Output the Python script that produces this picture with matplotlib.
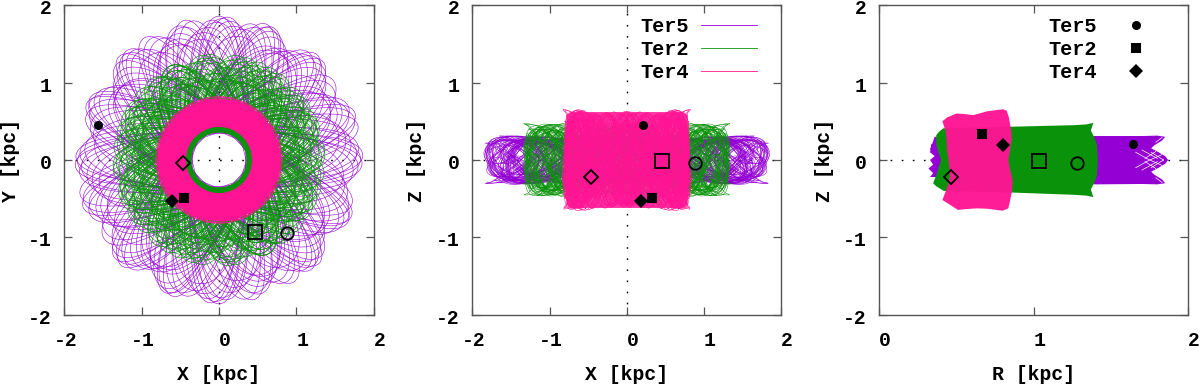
import matplotlib
matplotlib.use('Agg')
import matplotlib.pyplot as plt
from matplotlib.lines import Line2D
from matplotlib.patches import PathPatch, Wedge
from matplotlib.path import Path
from matplotlib.transforms import Affine2D, ScaledTranslation

names = ['Ter5', 'Ter2', 'Ter4']
purple = '#9400d3'
green = '#0a930a'
pink = '#ff1493'
axis_color = '#555555'

# cluster positions: now (filled), other end (open)
filled_xy = [(-1.57, 0.45), (-0.45, -0.49), (-0.61, -0.525)]
open_xy = [(0.88, -0.94), (0.466, -0.93), (-0.46, -0.04)]
filled_xz = [(0.215, 0.45), (0.33, -0.495), (0.19, -0.525)]
open_xz = [(0.88, -0.04), (0.45, -0.01), (-0.465, -0.215)]
filled_rz = [(1.645, 0.21), (0.664, 0.33), (0.80, 0.20)]
open_rz = [(1.28, -0.04), (1.037, -0.01), (0.468, -0.215)]

# one orbit loop seen from above, bezier control points, unit size
loop_verts = [(1, 0), (1, 0.72), (0.62, 1), (0, 1), (-0.62, 1), (-1, 0.72), (-1, 0),
              (-1, -0.72), (-0.62, -1), (0, -1), (0.62, -1), (1, -0.72), (1, 0)]
loop_codes = [Path.MOVETO] + [Path.CURVE4] * 12

# loop sizes and directions estimated in the XY panel
ter5_dirs = [2, 24, 47, 68, 90, 111, 134, 156]
ter5_spread = [-10, -7, -5, -3.5, -1.5, 0, 1, 3, 5.5, 8, 10.5]
ter5_long = [1.62, 1.74, 1.80, 1.85, 1.83, 1.86, 1.78, 1.81, 1.72, 1.66, 1.58]
ter5_short = [0.50, 0.44, 0.40, 0.35, 0.37, 0.34, 0.42, 0.38, 0.46, 0.48, 0.52]
ter2_dirs = [3, 11, 20, 27, 33, 41, 52, 59, 66, 72, 80, 92, 100, 112, 118, 123, 131, 143, 150, 157, 163, 172]
ter2_spread = [-5, -3, -1.5, 0, 2, 3.5, 5.5]
ter2_long = [1.12, 1.26, 1.33, 1.37, 1.30, 1.20, 1.05]
ter2_short = [0.47, 0.41, 0.37, 0.36, 0.39, 0.44, 0.52]
ter4_dirs = [0, 15, 30, 45, 60, 75, 90, 105, 120, 135, 150, 165]
ter4_spread = [-6, -2, 2, 6]
ter4_long = [0.81, 0.78, 0.82, 0.79]
ter4_short = [0.46, 0.43, 0.44, 0.48]
ter4_ring = (0.43, 0.79)

# two box orbits seen side on, quadratic bezier points, unit size
box_u = [-0.98, -0.90, -0.62, -0.42, -0.30, -0.18, 0.02, 0.22, 0.32, 0.45, 0.62, 0.78, 0.86,
         0.98, 1.04, 1.10, 1.00, 0.90, 0.70, 0.52, 0.42, 0.30, 0.12, -0.05, -0.15, -0.28,
         -0.48, -0.66, -0.74, -0.84, -1.03, -1.12, -0.95, -0.80, -0.55, -0.38, -0.20, -0.02,
         0.12, 0.30, 0.50, 0.66, 0.76, 0.88, 1.02, 1.12, 0.94, 0.82, 0.58, 0.40, 0.24, 0.06,
         -0.10, -0.30, -0.52, -0.70, -0.82, -0.96, -1.02]
box_v = [0.00, 1.25, 0.72, 0.30, -0.20, -1.25, -0.80, -0.30, 0.25, 1.30, 0.75, 0.30, -0.25,
         -1.20, -0.55, -0.10, 0.30, 1.30, 0.80, 0.30, -0.30, -1.30, -0.78, -0.25, 0.30, 1.28,
         0.80, 0.30, -0.30, -1.25, -0.60, -0.05, 0.40, 1.20, 0.55, -0.05, -0.55, -1.30, -0.50,
         0.10, 0.65, 1.30, 0.45, -0.15, -0.80, -0.60, 0.65, 1.20, 0.35, -0.20, -0.70, -1.25,
         -0.35, 0.20, 0.75, 1.20, 0.30, -0.35, -0.10]
corner_u = [-1.00, -1.08, -0.85, -0.65, -0.55, -0.42, -0.20, 0.00, 0.10, 0.22, 0.40, 0.55, 0.62,
            0.72, 0.92, 1.12, 1.05, 1.00, 0.88, 0.72, 0.65, 0.58, 0.78, 1.02, 1.04, 1.06, 0.86,
            0.62, 0.48, 0.34, 0.14, -0.05, -0.16, -0.28, -0.48, -0.66, -0.74, -0.84, -1.03,
            -1.14, -0.98, -0.80, -0.72, -0.68, -0.90, -1.10, -1.04]
corner_v = [-0.20, 1.20, 0.80, 0.30, -0.30, -1.25, -0.80, -0.30, 0.30, 1.25, 0.80, 0.30, -0.30,
            -1.20, -0.95, -0.70, 0.00, 0.90, 1.00, 1.10, 0.40, -0.40, -0.95, -1.15, -0.40, 0.50,
            0.90, 1.25, 0.40, -0.40, -0.85, -1.25, -0.30, 0.30, 0.85, 1.25, 0.30, -0.35, -0.95,
            -1.05, -0.98, -0.92, -0.20, 0.50, 0.98, 1.05, 0.30]

# size, flip and sideways shift of each drawn copy of the box orbits
ter5_box_w = [1.62, 1.58, 1.64, 1.56, 1.60, 1.52, 1.63, 1.57]
ter5_box_h = [0.30, 0.31, 0.27, 0.22, 0.31, 0.29, 0.26, 0.30]
ter5_box_flip = [1, -1, 1, -1, -1, 1, -1, 1]
ter5_box_shift = [-0.09, 0.14, 0.03, -0.17, 0.07, -0.05, 0.11, -0.13]
ter2_box_w = [1.16, 1.12, 1.20, 1.08, 1.18, 1.14, 1.10, 1.19]
ter2_box_h = [0.46, 0.47, 0.40, 0.36, 0.45, 0.43, 0.31, 0.46]
ter2_box_flip = [1, -1, -1, 1, 1, -1, 1, -1]
ter2_box_shift = [0.08, -0.13, 0.02, 0.17, -0.06, 0.12, -0.17, -0.03]
ter4_box_w = [0.73, 0.76, 0.70, 0.75, 0.72, 0.77, 0.68, 0.74]
ter4_box_h = [0.62, 0.65, 0.60, 0.50, 0.64, 0.63, 0.55, 0.61]
ter4_box_flip = [1, -1, 1, -1, -1, 1, -1, 1]
ter4_box_shift = [0.02, -0.01, 0.04, 0.0, -0.03, 0.01, 0.05, -0.02]
# pink cover of the XZ box, partly see-through
ter4_box_x = [-0.78, -0.72, 0.72, 0.79, 0.79, 0.72, -0.72, -0.78]
ter4_box_y = [0.58, 0.62, 0.62, 0.58, -0.58, -0.62, -0.62, -0.58]

# outlines of the three bands in the RZ panel
ter5_r = [0.34, 0.35, 0.33, 0.36, 0.50, 1.00, 1.41, 1.70, 1.80, 1.85, 1.83, 1.78, 1.76, 1.80, 1.85, 1.87, 1.85, 1.80, 1.76,
          1.78, 1.83, 1.85, 1.80, 1.70, 1.41, 1.00, 0.50, 0.36, 0.33, 0.35, 0.32, 0.35, 0.33, 0.36, 0.33]
ter5_z = [0.215, 0.17, 0.13, 0.30, 0.30, 0.30, 0.31, 0.31, 0.315, 0.30, 0.25, 0.19, 0.15, 0.11, 0.05, 0.00, -0.05, -0.11, -0.15,
          -0.19, -0.25, -0.30, -0.315, -0.31, -0.315, -0.31, -0.30, -0.22, -0.22, -0.17, -0.11, -0.06, 0.00, 0.05, 0.10]
ter2_r = [0.37, 0.385, 0.416, 0.85, 1.26, 1.34, 1.386, 1.37, 1.39, 1.41, 1.415, 1.41, 1.39, 1.37, 1.386, 1.34, 1.26, 0.85, 0.42,
          0.37, 0.35, 0.37, 0.385, 0.40, 0.385, 0.37]
ter2_z = [0.32, 0.36, 0.41, 0.43, 0.45, 0.46, 0.48, 0.38, 0.30, 0.20, 0.00, -0.20, -0.30, -0.38, -0.48, -0.46, -0.45, -0.42, -0.40,
          -0.34, -0.30, -0.20, -0.10, 0.00, 0.10, 0.20]
ter4_r = [0.41, 0.44, 0.50, 0.55, 0.61, 0.70, 0.80, 0.825, 0.84, 0.855, 0.858, 0.845, 0.836, 0.845, 0.864, 0.86, 0.845, 0.836,
          0.80, 0.70, 0.63, 0.56, 0.51, 0.46, 0.41, 0.44, 0.46, 0.455, 0.45, 0.44, 0.437, 0.43]
ter4_z = [0.50, 0.55, 0.60, 0.595, 0.58, 0.63, 0.655, 0.64, 0.55, 0.38, 0.26, 0.10, 0.00, -0.10, -0.26, -0.40, -0.55, -0.625,
          -0.655, -0.63, -0.625, -0.635, -0.645, -0.58, -0.517, -0.36, -0.215, -0.10, 0.00, 0.13, 0.26, 0.38]
# white gaps between the loops at the end of the Ter5 band
gap_r = [[1.66, 1.74, 1.83], [1.66, 1.74, 1.83], [1.70, 1.80], [1.70, 1.80], [1.76, 1.84], [1.76, 1.84],
         [1.72, 1.79], [1.72, 1.79], [1.79, 1.83], [1.79, 1.83]]
gap_z = [[-0.10, -0.01, 0.07], [0.10, 0.01, -0.07], [0.13, 0.02], [-0.13, -0.02], [0.10, 0.00], [-0.10, 0.00],
         [0.02, 0.11], [-0.02, -0.11], [0.23, 0.29], [-0.23, -0.29]]

plt.rcParams['font.family'] = ['Liberation Mono', 'DejaVu Sans Mono']
plt.rcParams['font.weight'] = 'bold'
plt.rcParams['font.size'] = 14.2
plt.rcParams['axes.unicode_minus'] = False
plt.rcParams['path.simplify'] = False

W, H = 1200.0, 385.0
boxes = [(64.3, 373.7), (472.3, 781.3), (879.0, 1188.3)]
top, bottom = 5.3, 314.7


def setup(left, right, xlim, xticks, xlabel, ylabel, ylabel_x, vline=True):
    ax = fig.add_axes([left / W, 1 - bottom / H, (right - left) / W, (bottom - top) / H])
    ax.set_xlim(xlim)
    ax.set_ylim(-2, 2)
    ax.set_xticks(xticks)
    ax.set_yticks([-2, -1, 0, 1, 2])
    ax.tick_params(direction='in', length=5.8, width=0.9, color=axis_color, top=True, right=True,
                   pad=12)
    ax.tick_params(axis='y', pad=9)
    for s in ax.spines.values():
        s.set_color(axis_color)
        s.set_linewidth(1.0)
        s.set_zorder(6)
    ax.axhline(0, color='black', lw=1.0, ls=(0, (1.2, 6.8)), zorder=0)
    if vline:
        ax.axvline(0, color='black', lw=1.0, ls=(0, (1.2, 6.8)), zorder=0)
    # gnuplot puts the digits a little off the tick
    for lab, t in zip(ax.get_xticklabels(), xticks):
        dx = 1 / 72.0 if t < 0 else 6 / 100.0
        lab.set_transform(lab.get_transform() + ScaledTranslation(dx, 0, fig.dpi_scale_trans))
    for lab in ax.get_yticklabels():
        lab.set_transform(lab.get_transform() + ScaledTranslation(0, -1.5 / 100.0, fig.dpi_scale_trans))
    fig.text((left + right) / 2 / W, 1 - 375 / H, xlabel, ha='center', va='center')
    fig.text(ylabel_x / W, 1 - 160 / H, ylabel, ha='center', va='center', rotation=90)
    return ax


def draw_rosette(ax, dirs, spread, longs, shorts, color, lw, alpha=1.0):
    p = Path(loop_verts, loop_codes)
    for i, d in enumerate(dirs):
        # start each bundle at another loop so the bundles do not repeat exactly
        n = len(spread)
        for k in range(n):
            off = spread[k]
            a = longs[(k + i * 3) % n] if i % 2 else longs[k]
            b = shorts[(k + i * 3) % n] if i % 2 else shorts[k]
            tr = Affine2D().scale(a, b).rotate_deg(d + off) + ax.transData
            ax.add_patch(PathPatch(p, fc='none', ec=color, lw=lw, alpha=alpha, transform=tr, zorder=2))


def draw_boxes(ax, widths, heights, flips, shifts, color, lw):
    verts = list(zip(box_u, box_v))
    p1 = Path(verts, [Path.MOVETO] + [Path.CURVE3] * (len(verts) - 1))
    verts = list(zip(corner_u, corner_v))
    p2 = Path(verts, [Path.MOVETO] + [Path.CURVE3] * (len(verts) - 1))
    for w, h, f, s in zip(widths, heights, flips, shifts):
        for side in (1, -1):
            for p in (p1, p2):
                tr = Affine2D().scale(side * w, f * h).translate(side * s, 0) + ax.transData
                ax.add_patch(PathPatch(p, fc='none', ec=color, lw=lw, transform=tr, zorder=2))


def draw_markers(ax, filled, empty):
    kinds = ['o', 's', 'D']
    sizes = [6.5, 6.5, 7.0]
    open_sizes = [9.0, 9.5, 7.0]
    for (x, y), m, s in zip(filled, kinds, sizes):
        ax.plot([x], [y], m, color='black', ms=s, mew=0, zorder=5, clip_on=False)
    for (x, y), m, s in zip(empty, kinds, open_sizes):
        ax.plot([x], [y], m, mfc='none', mec='black', ms=s, mew=1.3, zorder=5)


fig = plt.figure(figsize=(12, 3.85), dpi=100)

# X-Y
ax1 = setup(boxes[0][0], boxes[0][1], (-2, 2), [-2, -1, 0, 1, 2], 'X [kpc]', 'Y [kpc]', 10)
draw_rosette(ax1, ter5_dirs, ter5_spread, ter5_long, ter5_short, purple, 0.4)
draw_rosette(ax1, ter2_dirs, ter2_spread, ter2_long, ter2_short, green, 0.45)
ax1.add_patch(Wedge((0, 0), ter4_ring[1], 0, 360, width=ter4_ring[1] - ter4_ring[0], fc=pink, ec='none', zorder=2))
draw_rosette(ax1, ter4_dirs, ter4_spread, ter4_long, ter4_short, pink, 0.4)
draw_markers(ax1, filled_xy, open_xy)

# X-Z
ax2 = setup(boxes[1][0], boxes[1][1], (-2, 2), [-2, -1, 0, 1, 2], 'X [kpc]', 'Z [kpc]', 417)
draw_boxes(ax2, ter5_box_w, ter5_box_h, ter5_box_flip, ter5_box_shift, purple, 0.35)
draw_boxes(ax2, ter2_box_w, ter2_box_h, ter2_box_flip, ter2_box_shift, green, 0.35)
ax2.fill(ter4_box_x, ter4_box_y, color=pink, alpha=0.85, lw=0, zorder=3)
draw_boxes(ax2, ter4_box_w, ter4_box_h, ter4_box_flip, ter4_box_shift, pink, 0.4)
draw_markers(ax2, filled_xz, open_xz)
line_handles = [Line2D([], [], color=c, lw=0.6) for c in (purple, green, pink)]
ax2.legend(line_handles, names, loc='upper left', bbox_to_anchor=(0.475, 1.03), frameon=False, markerfirst=False,
           handlelength=2.75, handletextpad=0.6, labelspacing=0.2, borderpad=0.55, fontsize=14.6)

# R-Z
ax3 = setup(boxes[2][0], boxes[2][1], (0, 2), [0, 1, 2], 'R [kpc]', 'Z [kpc]', 825, vline=False)
ax3.fill(ter5_r, ter5_z, color=purple, lw=0, zorder=2)
for r, z in zip(gap_r, gap_z):
    ax3.plot(r, z, color='white', lw=0.5, zorder=2.1)
ax3.fill(ter2_r, ter2_z, color=green, lw=0, zorder=2.2)
ax3.fill(ter4_r, ter4_z, color=pink, lw=0, alpha=0.97, zorder=2.3)
draw_markers(ax3, filled_rz, open_rz)
marker_handles = [Line2D([], [], ls='none', marker=m, color='black', ms=s, mew=0)
                  for m, s in zip(['o', 's', 'D'], [6.5, 6.5, 7.0])]
ax3.legend(marker_handles, names, loc='upper left', bbox_to_anchor=(0.478, 1.03), frameon=False, markerfirst=False,
           handlelength=2.0, handletextpad=0.95, labelspacing=0.2, borderpad=0.55, fontsize=14.6)

fig.savefig('out.png', dpi=100)
